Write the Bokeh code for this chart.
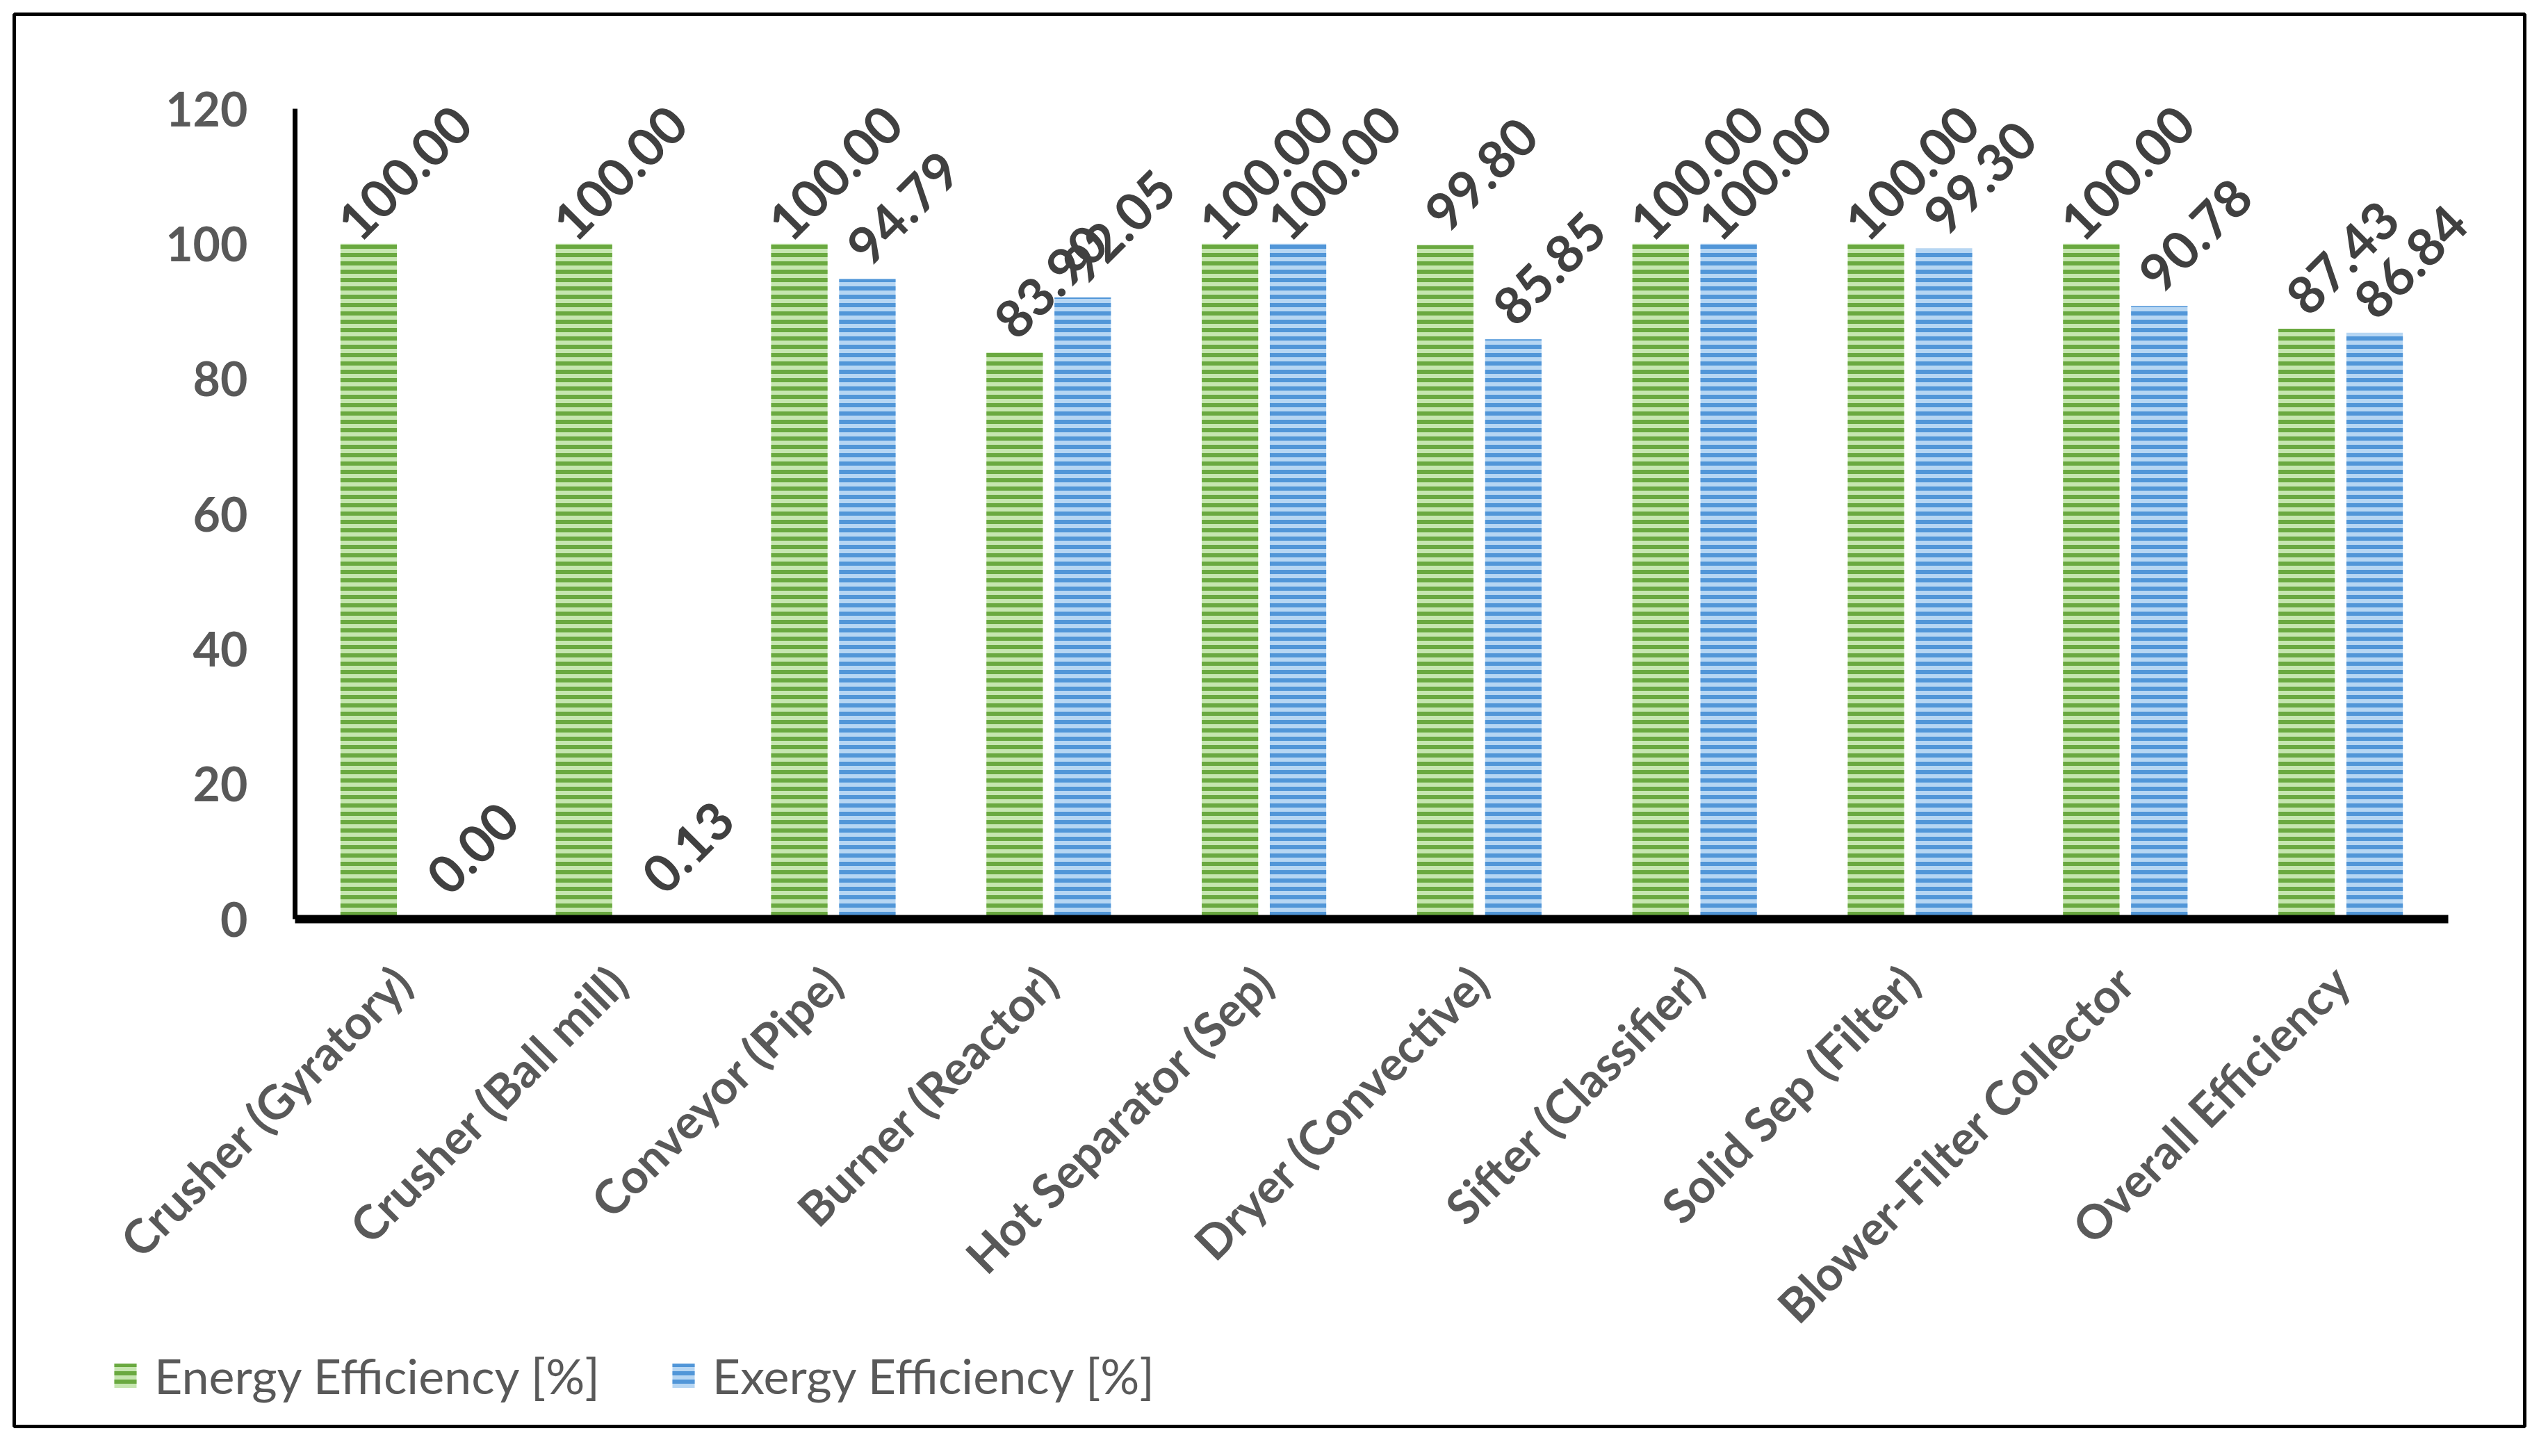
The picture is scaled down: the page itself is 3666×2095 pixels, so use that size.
import math
from bokeh.plotting import figure
from bokeh.models import ColumnDataSource, Range1d, FixedTicker, Legend, LegendItem
from bokeh.transform import dodge
from bokeh.core.properties import value
from bokeh.embed import file_html
from bokeh.resources import INLINE

# ---- data ----
categories = [
    "Crusher (Gyratory)", "Crusher (Ball mill)", "Conveyor (Pipe)", "Burner (Reactor)",
    "Hot Separator (Sep)", "Dryer (Convective)", "Sifter (Classifier)", "Solid Sep (Filter)",
    "Blower-Filter Collector", "Overall Efficiency",
]
energy = [100.00, 100.00, 100.00, 83.90, 100.00, 99.80, 100.00, 100.00, 100.00, 87.43]
exergy = [0.00, 0.13, 94.79, 92.05, 100.00, 85.85, 100.00, 99.30, 90.78, 86.84]
y_ticks = [0, 20, 40, 60, 80, 100, 120]
series_names = ["Energy Efficiency [%]", "Exergy Efficiency [%]"]

# category slot centres on a numeric axis (one unit per category)
xpos = [i + 0.5 for i in range(len(categories))]

src = ColumnDataSource(dict(
    x=xpos,
    energy=energy,
    exergy=exergy,
    energy_txt=[f"{v:.2f}" for v in energy],
    exergy_txt=[f"{v:.2f}" for v in exergy],
))

FONT = value("Lato")
W, H = 3650, 2079

# the plot frame is the whole boxed area; axes are fixed inside it
p = figure(
    width=W, height=H,
    x_range=Range1d(-1.304, len(categories) + 0.355),
    y_range=Range1d(-75.13, 134.0),
    output_backend="svg", toolbar_location=None,
    min_border_left=20, min_border_right=18, min_border_top=20, min_border_bottom=27,
)
p.outline_line_color = "black"
p.outline_line_width = 5
p.grid.visible = False
p.background_fill_color = "white"
p.border_fill_color = "white"

OFF = 0.158
BW = 0.262

r1 = p.vbar(x=dodge("x", -OFF), top="energy", width=BW, source=src,
            fill_color="#C6E6B0", line_color=None,
            hatch_pattern="horizontal_line", hatch_color="#6AA940",
            hatch_weight=6, hatch_scale=12)
r2 = p.vbar(x=dodge("x", OFF), top="exergy", width=BW, source=src,
            fill_color="#B6D6F3", line_color=None,
            hatch_pattern="horizontal_line", hatch_color="#5196D8",
            hatch_weight=6, hatch_scale=12)

lab_kw = dict(angle=math.pi / 4, x_offset=52, y_offset=-102,
              text_font=FONT, text_font_size="75px", text_font_style="bold",
              text_color="#404040", text_align="center", text_baseline="middle")
p.text(x=dodge("x", -OFF), y="energy", text="energy_txt", source=src, **lab_kw)
p.text(x=dodge("x", OFF), y="exergy", text="exergy_txt", source=src, **lab_kw)

# y axis
ya = p.yaxis[0]
ya.fixed_location = 0
ya.bounds = (y_ticks[0], y_ticks[-1])
ya.ticker = FixedTicker(ticks=y_ticks)
ya.axis_line_color = "black"
ya.axis_line_width = 7
ya.major_tick_line_color = None
ya.minor_tick_line_color = None
ya.major_label_text_font = "Lato"
ya.major_label_text_font_size = "68px"
ya.major_label_text_font_style = "bold"
ya.major_label_text_color = "#595959"
ya.major_label_standoff = 62

# x axis
xa = p.xaxis[0]
xa.fixed_location = 0
xa.bounds = (0, len(categories))
xa.ticker = FixedTicker(ticks=xpos)
xa.major_label_overrides = {x: c for x, c in zip(xpos, categories)}
xa.axis_line_color = "black"
xa.axis_line_width = 12
xa.major_tick_line_color = None
xa.minor_tick_line_color = None
xa.major_label_orientation = math.pi / 4
xa.major_label_text_font = "Lato"
xa.major_label_text_font_size = "68px"
xa.major_label_text_font_style = "bold"
xa.major_label_text_color = "#595959"
xa.major_label_standoff = 72

legend = Legend(
    items=[LegendItem(label=series_names[0], renderers=[r1]),
           LegendItem(label=series_names[1], renderers=[r2])],
    location=(140, 31), orientation="horizontal",
    glyph_width=40, glyph_height=44, label_height=44,
    label_standoff=22, spacing=100, padding=0, margin=0,
    border_line_color=None, background_fill_alpha=0,
    label_text_font="Lato", label_text_font_size="70px",
    label_text_color="#595959",
)
p.add_layout(legend)

open("out.html", "w").write(file_html(p, INLINE))
